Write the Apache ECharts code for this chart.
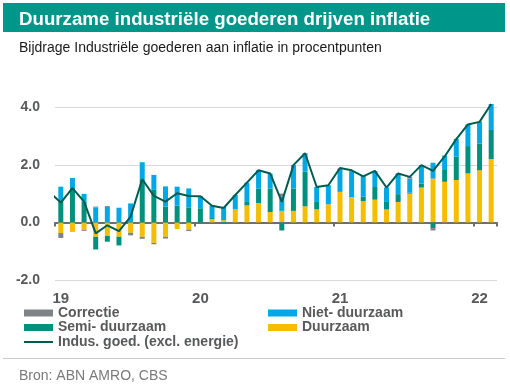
<!DOCTYPE html>
<html><head><meta charset="utf-8">
<script src="https://cdn.jsdelivr.net/npm/echarts@6/dist/echarts.min.js"></script>
<style>html,body{margin:0;padding:0;background:#fff}#c{width:510px;height:386px}</style>
</head><body><div id="c"></div>
<script>
// Months for the line (first entry Dec 2018, only partly visible at the left edge)
const months = ['2018-12',
 '2019-01','2019-02','2019-03','2019-04','2019-05','2019-06','2019-07','2019-08','2019-09','2019-10','2019-11','2019-12',
 '2020-01','2020-02','2020-03','2020-04','2020-05','2020-06','2020-07','2020-08','2020-09','2020-10','2020-11','2020-12',
 '2021-01','2021-02','2021-03','2021-04','2021-05','2021-06','2021-07','2021-08','2021-09','2021-10','2021-11','2021-12',
 '2022-01','2022-02'];
const barMonths = months.slice(1);
const tickLabels = ['19','20','21','22'];
const tickMonths = ['2019-01','2020-01','2021-01','2022-01'];

const correctie = [
 -0.17, 0, -0.03, 0.03, 0.03, 0, -0.09, -0.07, -0.05, -0.06, 0, -0.05,
 0, 0, 0, 0, 0, 0, 0, 0.1, 0, 0, 0, 0,
 0, 0, 0, 0, 0, 0, 0.06, 0, -0.08, -0.03, 0, 0,
 0, 0];
const nietDuurzaam = [
 0.52, 0.35, 0.27, 0.52, 0.54, 0.51, 0.66, 0.59, 0.52, 0.70, 0.66, 0.66,
 0.42, 0.40, 0.46, 0.50, 0.67, 0.64, 0.52, 0.50, 0.82, 0.64, 0.52, 0.66,
 0.81, 0.90, 0.71, 0.55, 0.50, 0.72, 0.49, 0.64, 0.55, 0.50, 0.62, 0.75,
 0.76, 0.90];
const semiDuurzaam = [
 0.72, 1.19, 0.72, -0.44, -0.20, -0.30, 0, 1.50, 1.13, 0.55, 0.58, 0.52,
 0.49, 0.06, -0.04, 0, 0.12, 0.50, 0.81, -0.28, 0.77, 1.20, 0.26, 0,
 0, 0, 0.16, 0.44, 0.26, 0.27, 0.03, 0.14, -0.20, 0.41, 0.81, 0.95,
 0.93, 1.01];
const duurzaam = [
 -0.37, -0.33, -0.27, -0.50, -0.47, -0.50, -0.36, -0.50, -0.71, -0.50, -0.23, -0.25,
 0, 0.12, 0.08, 0.45, 0.59, 0.67, 0.36, 0.40, 0.40, 0.56, 0.45, 0.63,
 1.06, 0.88, 0.74, 0.79, 0.45, 0.71, 1.00, 1.21, 1.52, 1.41, 1.47, 1.70,
 1.81, 2.20];
const indusGoed = [1.05,
 0.69, 1.19, 0.72, -0.38, -0.10, -0.30, 0.20, 1.50, 0.92, 0.72, 1.01, 0.92,
 0.91, 0.58, 0.50, 0.95, 1.38, 1.81, 1.70, 0.71, 1.99, 2.40, 1.23, 1.29,
 1.89, 1.81, 1.60, 1.79, 1.21, 1.70, 1.58, 1.99, 1.79, 2.29, 2.89, 3.40,
 3.49, 4.11];

const FONT = 'Liberation Sans, Arial, sans-serif';
const labelPos = tickMonths.map(m => barMonths.indexOf(m));

const barDefs = [
 {name:'Duurzaam', data:duurzaam, color:'#F5BE00'},
 {name:'Semi- duurzaam', data:semiDuurzaam, color:'#00907E'},
 {name:'Niet- duurzaam', data:nietDuurzaam, color:'#00A9E6'},
 {name:'Correctie', data:correctie, color:'#7F8287'}
];
const series = barDefs.map(b => ({
 type:'bar', name:b.name, stack:'total', barWidth:5, xAxisIndex:0,
 itemStyle:{color:b.color}, color:b.color,
 data: b.data
}));
series.push({
 type:'line', name:'Indus. goed. (excl. energie)', color:'#005C50', xAxisIndex:1,
 showSymbol:false, symbol:'none', clip:true, z:5,
 lineStyle:{width:2, color:'#005C50'},
 data: months.map((m,i)=>[i-1, indusGoed[i]])
});

const legTxt = {fontSize:14, fontWeight:'bold', color:'#58595b', fontFamily:FONT};
function leg(name, left, top, h){
 return {data:[{name:name, icon:'rect'}], left:left, top:top, padding:0, itemGap:0,
  itemWidth:29, itemHeight:h||7, textStyle:legTxt, selectedMode:false};
}

const chart = echarts.init(document.getElementById('c'), null, {renderer:'canvas'});
chart.setOption({
 animation:false,
 textStyle:{fontFamily:FONT},
 grid:{left:55, right:13, top:100, bottom:106},
 xAxis:[
  {type:'category', data:barMonths, position:'bottom', boundaryGap:true,
   axisLine:{show:true, onZero:true, lineStyle:{color:'#6d6e71', width:2}},
   axisTick:{show:true, interval:(i)=>labelPos.indexOf(i) >= 0, length:4, lineStyle:{color:'#6d6e71', width:2}},
   axisLabel:{show:false}, splitLine:{show:false}},
  {type:'value', min:-0.5, max:37.5, position:'bottom',
   axisLine:{show:false, onZero:false}, axisTick:{show:false}, splitLine:{show:false},
   axisLabel:{customValues:labelPos, margin:11, fontSize:15, fontWeight:'bold', color:'#58595b',
    formatter: v => tickLabels[labelPos.indexOf(v)] || ''}}
 ],
 yAxis:{type:'value', min:-2, max:4.25, interval:2,
  axisLine:{show:false}, axisTick:{show:false},
  axisLabel:{showMaxLabel:false, margin:15, fontSize:14, fontWeight:'bold', color:'#58595b',
   formatter: v => v.toFixed(1)},
  splitLine:{show:true, showMaxLine:false, lineStyle:{color:'#d9d9d9', width:1}}},
 legend:[
  leg('Correctie', 24, 306),
  leg('Niet- duurzaam', 268, 306),
  leg('Semi- duurzaam', 24, 320.5),
  leg('Duurzaam', 268, 320.5),
  leg('Indus. goed. (excl. energie)', 24, 335, 2)
 ],
 graphic:[
  {type:'rect', shape:{x:3, y:3, width:502, height:29}, style:{fill:'#00968A'}, silent:true},
  {type:'text', x:19, y:19.5, style:{text:'Duurzame industriële goederen drijven inflatie', fill:'#fff',
    font:'bold 18.7px ' + FONT, verticalAlign:'middle'}},
  {type:'text', x:19, y:48, style:{text:'Bijdrage Industriële goederen aan inflatie in procentpunten', fill:'#1a1a1a',
    font:'14px ' + FONT, verticalAlign:'middle'}},
  {type:'rect', shape:{x:3, y:358, width:502, height:1}, style:{fill:'#c8c8c8'}, silent:true},
  {type:'text', x:19, y:376, style:{text:'Bron: ABN AMRO, CBS', fill:'#7a7a7a', font:'14px ' + FONT, verticalAlign:'middle'}}
 ],
 series: series
});
</script>
</body></html>
